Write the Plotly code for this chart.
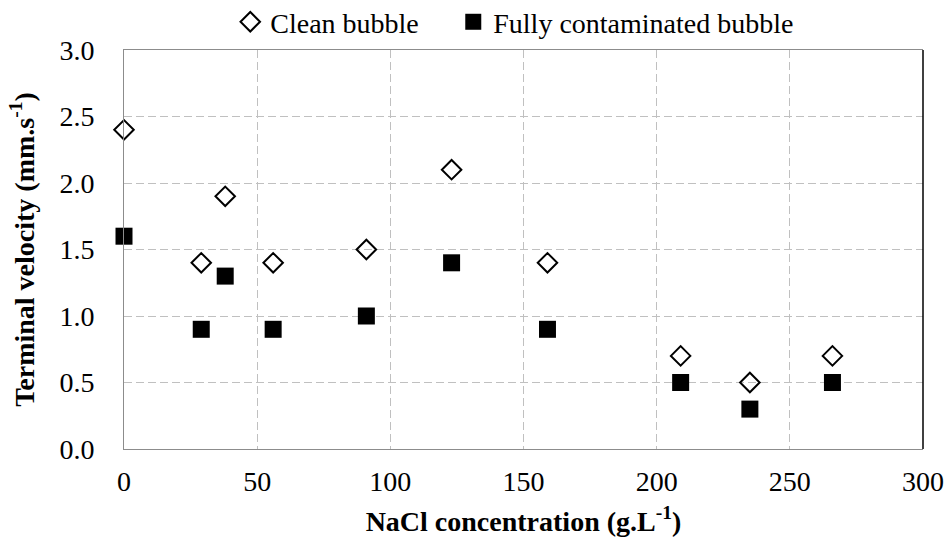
import plotly.graph_objects as go

nacl = [0, 29, 38, 56, 91, 123, 159, 209, 235, 266]
clean = [2.4, 1.4, 1.9, 1.4, 1.5, 2.1, 1.4, 0.7, 0.5, 0.7]
contaminated = [1.6, 0.9, 1.3, 0.9, 1.0, 1.4, 0.9, 0.5, 0.3, 0.5]

font = "Liberation Serif, Times New Roman, serif"
fs = 28

fig = go.Figure()
fig.add_trace(go.Scatter(
    x=nacl, y=clean, mode="markers", name="Clean bubble",
    marker=dict(symbol="diamond-open", size=15, color="black", line=dict(width=2, color="black")),
    cliponaxis=False, legendwidth=178,
))
fig.add_trace(go.Scatter(
    x=nacl, y=contaminated, mode="markers", name="Fully contaminated bubble",
    marker=dict(symbol="square", size=17, color="black", line=dict(width=0)),
    cliponaxis=False,
))

fig.update_layout(
    width=946, height=537,
    margin=dict(l=124, r=23, t=50, b=88, autoexpand=False),
    paper_bgcolor="white", plot_bgcolor="white",
    font=dict(family=font, size=fs, color="black"),
    showlegend=True,
    legend=dict(orientation="h", x=0.133, xanchor="left", y=1.07, yanchor="middle",
                font=dict(family=font, size=fs), itemwidth=30, tracegroupgap=0,
                bgcolor="rgba(0,0,0,0)"),
    xaxis=dict(
        range=[0, 300], tickvals=[0, 50, 100, 150, 200, 250, 300],
        showgrid=True, gridcolor="#c0c0c0", griddash="8px,4px", gridwidth=1,
        showline=True, linecolor="#8c8c8c", linewidth=1, mirror=True,
        zeroline=False, ticks="outside", ticklen=7, tickcolor="rgba(0,0,0,0)",
        tickfont=dict(family=font, size=fs),
        title=dict(text="<b>NaCl concentration (g.L<sup>-1</sup>)</b>", font=dict(family=font, size=fs), standoff=15),
    ),
    yaxis=dict(
        range=[0, 3.0], tickvals=[0, 0.5, 1.0, 1.5, 2.0, 2.5, 3.0], tickformat=".1f",
        showgrid=True, gridcolor="#c0c0c0", griddash="8px,4px", gridwidth=1,
        showline=True, linecolor="#8c8c8c", linewidth=1,
        zeroline=False, ticks="outside", ticklen=23, tickcolor="rgba(0,0,0,0)",
        tickfont=dict(family=font, size=fs),
        title=dict(text="<b>Terminal velocity (mm.s<sup>-1</sup>)</b>", font=dict(family=font, size=fs), standoff=16),
    ),
    shapes=[dict(type="line", xref="paper", yref="paper", x0=1, x1=1, y0=0, y1=1,
                 line=dict(color="black", width=1.5))],
)

fig.write_html("out.html", config={"displayModeBar": False},
               post_script="document.body.style.margin='0';")
